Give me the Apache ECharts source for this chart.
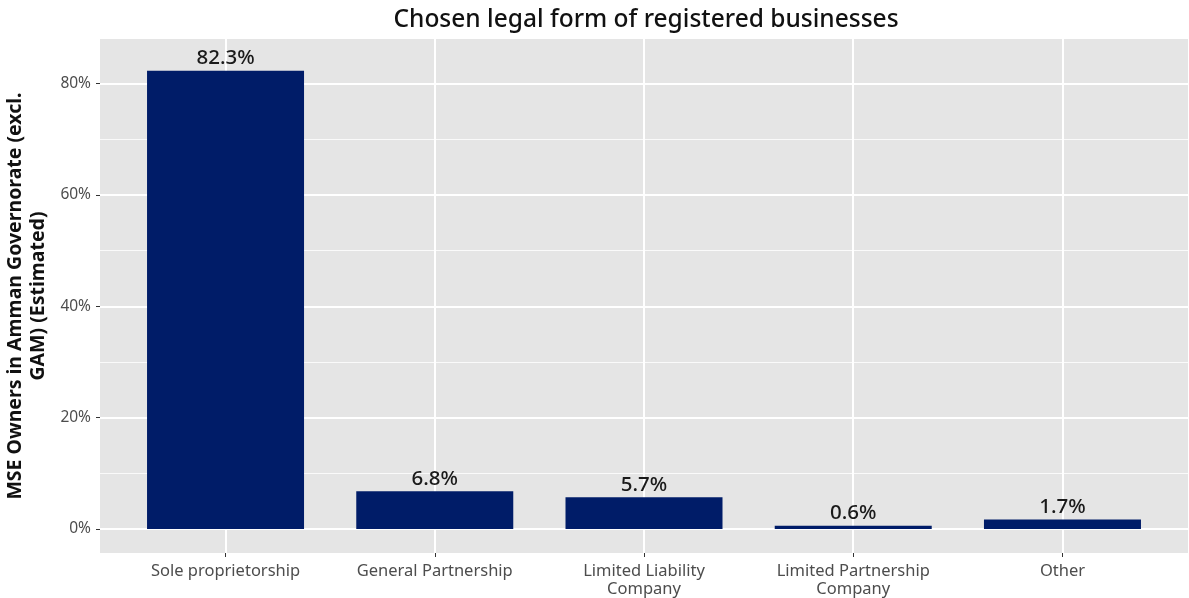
<!DOCTYPE html>
<html>
<head>
<meta charset="utf-8">
<title>Chosen legal form of registered businesses</title>
<script src="https://cdn.jsdelivr.net/npm/echarts@6/dist/echarts.min.js"></script>
<style>
  html, body { margin: 0; padding: 0; background: #fff; }
  #chart1 { width: 1189px; height: 598px; }
</style>
</head>
<body>
<div id="chart1"></div>
<script>
  // categories and shares (%)
  var categories = ['Sole proprietorship', 'General Partnership', 'Limited Liability\nCompany', 'Limited Partnership\nCompany', 'Other'];
  var shares = [82.3, 6.8, 5.7, 0.6, 1.7];
  var majorTicks = [0, 20, 40, 60, 80];
  var minorTicks = [10, 30, 50, 70];
  var catPositions = [0, 1, 2, 3, 4];

  var myChart = echarts.init(document.getElementById('chart1'));

  var barData = shares.map(function (v, i) { return [catPositions[i], v]; });

  var font = '"Noto Sans", "Open Sans", sans-serif';

  var option = {
    animation: false,
    title: {
      text: 'Chosen legal form of registered businesses',
      left: 641,
      textAlign: 'center',
      top: 3,
      textStyle: { fontFamily: font, fontSize: 24.5, fontWeight: 500, color: '#111' }
    },
    grid: {
      left: 100, right: 1, top: 39, bottom: 45,
      containLabel: false, outerBoundsMode: 'none',
      show: true, backgroundColor: '#E5E5E5', borderWidth: 0
    },
    xAxis: {
      type: 'value',
      min: -0.6, max: 4.6,
      axisLine: { show: false, onZero: false },
      axisTick: { show: true, customValues: catPositions, length: 4, lineStyle: { color: '#333', width: 1 } },
      axisLabel: {
        customValues: catPositions,
        margin: 9,
        fontFamily: font, fontSize: 16.5, color: '#4D4D4D', lineHeight: 18,
        formatter: function (v) { return categories[Math.round(v)] || ''; }
      },
      splitLine: { show: true, lineStyle: { color: '#fff', width: 2 } }
    },
    yAxis: [{
      type: 'value',
      min: -4.3, max: 88,
      name: 'MSE Owners in Amman Governorate (excl.\nGAM) (Estimated)',
      nameLocation: 'middle',
      nameRotate: 90,
      nameGap: 42,
      nameTextStyle: { fontFamily: font, fontSize: 19.5, fontWeight: 'bold', color: '#111', lineHeight: 23, align: 'center' },
      axisLine: { show: false, onZero: false },
      axisTick: { show: true, customValues: majorTicks, length: 4, lineStyle: { color: '#333', width: 1 } },
      axisLabel: {
        customValues: majorTicks, margin: 9,
        fontFamily: font, fontSize: 15.5, color: '#4D4D4D',
        formatter: function (v) { return Math.round(v) + '%'; }
      },
      splitLine: { show: true, lineStyle: { color: '#fff', width: 2 } }
    }, {
      type: 'value',
      min: -4.3, max: 88,
      position: 'left',
      axisLine: { show: false, onZero: false },
      axisTick: { show: false, customValues: minorTicks },
      axisLabel: { show: false, customValues: minorTicks },
      splitLine: { show: true, lineStyle: { color: '#FAFAFA', width: 1 } }
    }],
    series: [{
      type: 'bar',
      yAxisIndex: 0,
      data: barData,
      barWidth: 157,
      itemStyle: { color: '#001C68' },
      label: {
        show: true, position: 'top', distance: 2,
        fontFamily: font, fontSize: 20.5, fontWeight: 500, color: '#1A1A1A',
        formatter: function (p) { return p.value[1].toFixed(1) + '%'; }
      }
    }]
  };
  myChart.setOption(option);
</script>
</body>
</html>
